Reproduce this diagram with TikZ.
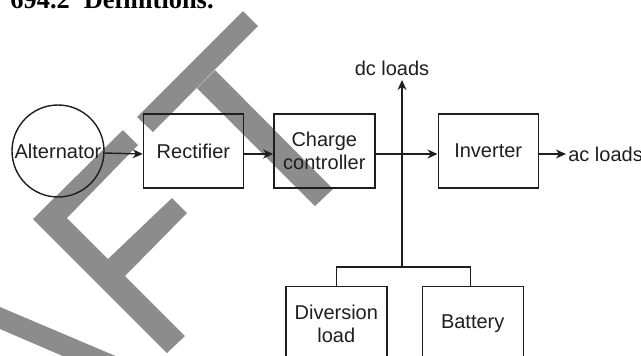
\documentclass[tikz,border=0pt]{standalone}
\usepackage{fontspec}
\setmainfont{Liberation Sans}
\newfontfamily\headfont{Liberation Serif}
\usetikzlibrary{arrows.meta,positioning}
\definecolor{pvline}{HTML}{1E1E1E}
\definecolor{pvmark}{HTML}{8C8C8C}
\tikzset{
  blk/.style={
    draw=pvline,
    line width=0.7pt,
    minimum width=50pt,
    minimum height=37pt,
    inner sep=0pt,
    align=center,
    text=pvline,
    font=\fontsize{10}{11.5}\selectfont
  },
  gen/.style={
    draw=pvline,
    line width=0.7pt,
    circle,
    minimum size=46pt,
    inner sep=0pt,
    text=pvline,
    font=\fontsize{10}{11.5}\selectfont
  },
  lbl/.style={
    inner sep=1pt,
    text=pvline,
    font=\fontsize{10}{11.5}\selectfont
  },
  head/.style={
    inner sep=0pt,
    anchor=base west,
    text=black,
    font=\headfont\bfseries\fontsize{13.2}{15}\selectfont
  },
  flow/.style={
    -{Stealth[length=5pt,width=4.5pt]},
    line width=0.7pt,
    draw=pvline
  },
  wire/.style={
    line width=0.7pt,
    draw=pvline
  },
  wmark/.style={
    fill=pvmark,
    draw=none
  }
}
\begin{document}
\begin{tikzpicture}[x=0.5pt, y=-0.5pt]

\useasboundingbox (0,0) rectangle (641,355);
\clip (0,0) rectangle (641,355);

% watermark pieces
\fill[wmark] (243,11) -- (258,26) -- (153,132) -- (137,117) -- cycle;
\fill[wmark] (197,88) -- (215,70) -- (333,189) -- (315,206) -- cycle;
\fill[wmark] (123,130) -- (33,219) -- (167,353) -- (185,336) -- (125,276)
  -- (187,213) -- (172,198) -- (108,259) -- (67,218) -- (138,145) -- cycle;
\fill[wmark] (0,307) -- (125,360) -- (72,360) -- (0,329) -- cycle;

\node[head] (title) at (10,8) {694.2\hspace{7pt}Definitions.};

\node[gen] (alt) at (58,151) {Alternator};
\node[blk, right=19pt of alt] (rect) {Rectifier};
\node[blk, minimum width=50.5pt, right=14.5pt of rect] (cc) {Charge\\controller};
\node[blk, right=31pt of cc] (inv) {Inverter};
\node[lbl, right=13.5pt of inv, yshift=-1.5pt] (ac) {ac loads};

\node[blk, minimum width=50.5pt, below=48.5pt of cc, xshift=6pt] (div) {Diversion\\load};
\node[blk, minimum width=50.5pt, right=17pt of div] (bat) {Battery};

\node[lbl, anchor=south, inner sep=2pt] (dc) at (392,80) {dc loads};
\coordinate (bus) at (402,267);

\draw[flow] ([yshift=-1pt]alt.east) -- ([yshift=-1.5pt]rect.west);
\draw[flow] ([yshift=-1.5pt]rect.east) -- ([yshift=-1.5pt]cc.west);
\draw[flow] ([yshift=-1.5pt]cc.east) -- ([yshift=-1.5pt]inv.west);
\draw[flow] ([yshift=-1.5pt]inv.east) -- (ac.west);
\draw[wire] (div.north) |- (bus) -| ([xshift=-1pt]bat.north);
\draw[flow] (bus) -- (bus |- dc.south);

\end{tikzpicture}
\end{document}
